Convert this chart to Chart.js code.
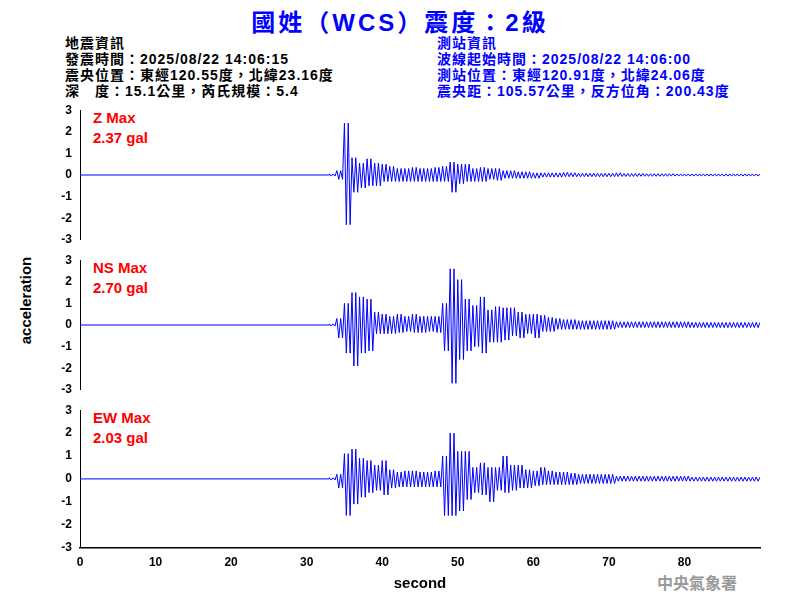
<!DOCTYPE html>
<html><head><meta charset="utf-8">
<script src="https://cdn.jsdelivr.net/npm/chart.js@4"></script>
<style>
body{margin:0;width:800px;height:600px;background:#fff;position:relative;overflow:hidden;font-family:Arial,"Liberation Sans","Noto Sans CJK TC",sans-serif;}
.t{position:absolute;white-space:nowrap;font-weight:bold;}
canvas{position:absolute;left:0;}
</style></head><body>
<div class="t" style="left:0;width:800px;text-align:center;top:3px;font-size:24px;letter-spacing:3px;color:#0000ff;">國姓（WCS）震度：2級</div>
<div class="t" style="left:65px;top:35px;font-size:14px;letter-spacing:1px;line-height:16px;color:#000;">地震資訊<br>發震時間：2025/08/22 14:06:15<br>震央位置：東經120.55度，北緯23.16度<br>深　度：15.1公里，芮氏規模：5.4</div>
<div class="t" style="left:437px;top:35px;font-size:14px;letter-spacing:1px;line-height:16px;color:#0000ff;">測站資訊<br>波線起始時間：2025/08/22 14:06:00<br>測站位置：東經120.91度，北緯24.06度<br>震央距：105.57公里，反方位角：200.43度</div>
<div class="t" style="left:93px;top:108px;font-size:15px;line-height:20px;color:#ff0000;">Z Max<br>2.37 gal</div>
<div class="t" style="left:93px;top:258px;font-size:15px;line-height:20px;color:#ff0000;">NS Max<br>2.70 gal</div>
<div class="t" style="left:93px;top:408px;font-size:15px;line-height:20px;color:#ff0000;">EW Max<br>2.03 gal</div>
<div class="t" style="left:-18px;top:292px;font-size:15px;transform:rotate(-90deg);color:#000;">acceleration</div>
<div class="t" style="left:657px;top:570px;font-size:16px;color:#999;font-family:'Noto Sans CJK TC',serif;">中央氣象署</div>
<canvas id="c1" style="top:100px" width="780" height="150"></canvas>
<canvas id="c2" style="top:250px" width="780" height="150"></canvas>
<canvas id="c3" style="top:400px" width="780" height="195"></canvas>
<script>
// envelope read per second, t = 33..90
const secs = [];
for (let t = 33; t <= 90; t++) secs.push(t);
const yTicks = [-3, -2, -1, 0, 1, 2, 3];
const xTicks = [0, 10, 20, 30, 40, 50, 60, 70, 80];

const zHi = [0.05,0.2,2.4,0.8,0.55,0.75,0.55,0.5,0.4,0.3,0.3,0.35,0.3,0.3,0.35,0.4,0.6,0.5,0.5,0.3,0.35,0.3,0.3,0.2,0.2,0.15,0.15,0.1,0.1,0.1,0.1,0.12,0.1,0.08,0.08,0.08,0.08,0.08,0.1,0.07,0.07,0.07,0.06,0.06,0.06,0.06,0.05,0.05,0.05,0.05,0.05,0.05,0.05,0.05,0.05,0.05,0.05,0.05];
const zLo = [-0.05,-0.2,-2.3,-0.8,-0.6,-0.5,-0.5,-0.3,-0.3,-0.3,-0.3,-0.3,-0.3,-0.3,-0.3,-0.3,-0.8,-0.4,-0.3,-0.3,-0.3,-0.2,-0.25,-0.15,-0.15,-0.15,-0.15,-0.15,-0.1,-0.1,-0.1,-0.08,-0.08,-0.08,-0.08,-0.08,-0.08,-0.08,-0.07,-0.07,-0.07,-0.06,-0.06,-0.06,-0.06,-0.05,-0.05,-0.05,-0.05,-0.05,-0.05,-0.05,-0.05,-0.05,-0.05,-0.05,-0.05,-0.05];
const nsHi = [0.05,0.3,1.0,1.5,1.3,1.2,0.6,0.5,0.4,0.5,0.4,0.5,0.4,0.4,0.4,1.0,2.6,2.1,1.2,0.9,1.3,0.7,0.85,0.8,0.8,0.6,0.5,0.5,0.45,0.35,0.3,0.25,0.25,0.2,0.2,0.2,0.2,0.2,0.15,0.15,0.15,0.15,0.15,0.15,0.15,0.15,0.15,0.15,0.12,0.12,0.12,0.12,0.12,0.12,0.12,0.12,0.12,0.12];
const nsLo = [-0.05,-0.6,-1.3,-1.9,-1.3,-1.2,-0.4,-0.4,-0.4,-0.35,-0.3,-0.35,-0.35,-0.3,-0.35,-1.2,-2.7,-1.6,-1.2,-1.0,-1.3,-0.8,-0.8,-0.7,-0.5,-0.6,-0.4,-0.6,-0.3,-0.3,-0.2,-0.2,-0.2,-0.2,-0.2,-0.2,-0.2,-0.2,-0.12,-0.12,-0.12,-0.12,-0.12,-0.12,-0.12,-0.12,-0.12,-0.12,-0.12,-0.12,-0.12,-0.12,-0.12,-0.12,-0.12,-0.12,-0.12,-0.12];
const ewHi = [0.05,0.2,1.1,1.3,0.9,0.8,0.6,0.8,0.4,0.3,0.35,0.35,0.3,0.3,0.35,1.0,2.0,1.2,1.2,0.5,0.7,0.5,0.5,1.0,0.6,0.6,0.4,0.35,0.5,0.35,0.3,0.3,0.25,0.2,0.2,0.2,0.2,0.2,0.12,0.12,0.12,0.12,0.12,0.12,0.12,0.12,0.12,0.12,0.08,0.08,0.08,0.08,0.08,0.08,0.08,0.08,0.08,0.08];
const ewLo = [-0.05,-0.4,-1.6,-1.1,-0.8,-0.6,-0.5,-0.7,-0.4,-0.35,-0.35,-0.35,-0.35,-0.35,-0.35,-1.6,-1.6,-1.4,-0.9,-0.6,-0.7,-1.0,-0.5,-0.6,-0.5,-0.4,-0.4,-0.3,-0.25,-0.25,-0.25,-0.25,-0.25,-0.2,-0.2,-0.2,-0.2,-0.2,-0.1,-0.1,-0.1,-0.1,-0.1,-0.1,-0.1,-0.1,-0.1,-0.1,-0.1,-0.1,-0.1,-0.1,-0.1,-0.1,-0.1,-0.1,-0.1,-0.1];

// each second's swing drawn twice, hi/lo alternating
function trace(hi, lo) {
  const pts = [{ x: 0, y: 0 }, { x: 33, y: 0 }];
  secs.forEach((t, i) => {
    pts.push({ x: t, y: hi[i] });
    pts.push({ x: t + 0.25, y: lo[i] });
    pts.push({ x: t + 0.5, y: hi[i] });
    pts.push({ x: t + 0.75, y: lo[i] });
  });
  return pts;
}

const tickFont = { family: 'Arial', size: 12, weight: 'bold' };

function makeChart(id, hi, lo, showX) {
  return new Chart(document.getElementById(id), {
    type: 'line',
    data: { datasets: [{ data: trace(hi, lo), borderColor: '#0000ff', borderWidth: 1, pointRadius: 0, tension: 0 }] },
    options: {
      responsive: false, animation: false,
      layout: { padding: { top: 6, bottom: showX ? 0 : 4, right: 20 } },
      plugins: { legend: { display: false }, tooltip: { enabled: false } },
      scales: {
        x: {
          type: 'linear', min: 0, max: 90, display: showX,
          afterBuildTicks: s => { s.ticks = xTicks.map(v => ({ value: v })); },
          ticks: { color: '#000', font: tickFont, autoSkip: false, maxRotation: 0 },
          grid: { display: false, drawTicks: true, tickLength: 5, tickColor: '#000' },
          border: { color: '#000', width: 1.5 },
          title: { display: true, text: 'second', color: '#000', font: { family: 'Arial', size: 15, weight: 'bold' }, padding: 2 }
        },
        y: {
          min: -3, max: 3,
          afterBuildTicks: s => { s.ticks = yTicks.map(v => ({ value: v })); },
          afterFit: s => { s.width = 80; },
          ticks: { color: '#000', font: tickFont },
          grid: { display: false, drawTicks: true, tickLength: 5, tickColor: '#000' },
          border: { color: '#000', width: 1 }
        }
      }
    }
  });
}

makeChart('c1', zHi, zLo, false);
makeChart('c2', nsHi, nsLo, false);
makeChart('c3', ewHi, ewLo, true);
</script>
</body></html>
